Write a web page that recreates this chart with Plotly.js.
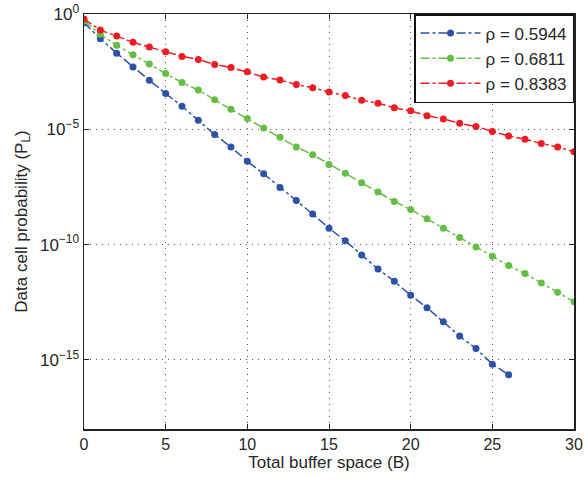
<!DOCTYPE html>
<html>
<head>
<meta charset="utf-8">
<script src="https://cdn.plot.ly/plotly-3.0.1.min.js"></script>
<style>html,body{margin:0;padding:0;background:#fff;}#chart{width:586px;height:481px;}</style>
</head>
<body>
<div id="chart"></div>
<script>
const seriesNames = ["ρ = 0.5944", "ρ = 0.6811", "ρ = 0.8383"];
const bufferBlue = [0,1,2,3,4,5,6,7,8,9,10,11,12,13,14,15,16,17,18,19,20,21,22,23,24,25,26];
const bufferFull = [0,1,2,3,4,5,6,7,8,9,10,11,12,13,14,15,16,17,18,19,20,21,22,23,24,25,26,27,28,29,30];
const probBlue = [0.417,8.5e-2,2.0e-2,5.0e-3,1.35e-3,3.55e-4,1.0e-4,2.45e-5,5.9e-6,1.7e-6,4.1e-7,1.17e-7,2.95e-8,8.1e-9,2.1e-9,5.1e-10,1.45e-10,3.55e-11,8.7e-12,2.57e-12,6.3e-13,1.82e-13,4.5e-14,1.07e-14,3.1e-15,6.5e-16,2.24e-16];
const probGreen = [0.50,0.132,4.4e-2,1.7e-2,6.8e-3,2.6e-3,1.07e-3,5.0e-4,1.9e-4,7.4e-5,2.9e-5,1.15e-5,4.5e-6,1.7e-6,7.9e-7,3.0e-7,1.23e-7,4.8e-8,1.9e-8,7.4e-9,3.3e-9,1.32e-9,5.1e-10,2.0e-10,7.9e-11,3.1e-11,1.23e-11,5.5e-12,2.14e-12,8.5e-13,3.3e-13];
const probRed = [0.60,0.20,0.11,5.9e-2,3.7e-2,2.3e-2,1.45e-2,1.07e-2,6.5e-3,4.8e-3,3.1e-3,1.86e-3,1.38e-3,8.7e-4,6.3e-4,4.1e-4,2.9e-4,1.82e-4,1.35e-4,8.5e-5,6.3e-5,3.9e-5,2.8e-5,1.82e-5,1.32e-5,8.1e-6,5.1e-6,3.7e-6,2.4e-6,1.7e-6,1.07e-6];
const xTicks = [0,5,10,15,20,25,30];
const yTickVals = [1,1e-5,1e-10,1e-15];
const yTickText = ["10<sup>0</sup>","10<sup>−5</sup>","10<sup>−10</sup>","10<sup>−15</sup>"];

const colors = ["#2c52a8", "#66bd45", "#ec1c24"];
function tr(x, y, i) {
  return {
    x: x, y: y, name: seriesNames[i], type: "scatter", mode: "lines+markers",
    line: {color: colors[i], width: 1.5, dash: "dashdot"},
    marker: {color: colors[i], size: 7}
  };
}
const data = [tr(bufferBlue, probBlue, 0), tr(bufferFull, probGreen, 1), tr(bufferFull, probRed, 2)];
const fam = "Liberation Sans, Arial, sans-serif";
const txt = "#262626";
const layout = {
  width: 586, height: 481,
  margin: {l: 84, r: 12, t: 14, b: 52},
  paper_bgcolor: "#fff", plot_bgcolor: "#fff",
  font: {family: fam, size: 16, color: txt},
  showlegend: true,
  legend: {x: 1, y: 1, xanchor: "right", yanchor: "top", bgcolor: "#fff",
           bordercolor: "#111", borderwidth: 1.5, tracegroupgap: 0, itemwidth: 60,
           font: {family: fam, size: 17, color: txt}},
  xaxis: {
    range: [0, 30], tickvals: xTicks, ticks: "inside", ticklen: 5, tickcolor: "#222",
    showline: true, linecolor: "#222", linewidth: 1.5, mirror: "ticks",
    showgrid: true, gridcolor: "#555", griddash: "1px,5px", gridwidth: 1, zeroline: false,
    title: {text: "Total buffer space (B)", standoff: 4, font: {family: fam, size: 17, color: txt}},
    tickfont: {family: fam, size: 16, color: txt}
  },
  yaxis: {
    type: "log", range: [-18, 0], tickvals: yTickVals, ticktext: yTickText,
    ticks: "inside", ticklen: 5, tickcolor: "#222",
    showline: true, linecolor: "#222", linewidth: 1.5, mirror: "ticks",
    showgrid: true, gridcolor: "#555", griddash: "1px,5px", gridwidth: 1, zeroline: false,
    title: {text: "Data cell probability (P<sub>L</sub>)", standoff: 8, font: {family: fam, size: 17, color: txt}},
    tickfont: {family: fam, size: 17, color: txt}
  }
};
Plotly.newPlot("chart", data, layout, {displayModeBar: false, staticPlot: true});
</script>
</body>
</html>
